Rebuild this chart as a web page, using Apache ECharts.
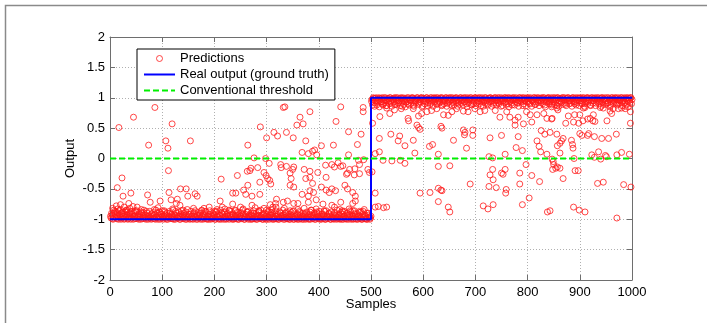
<!DOCTYPE html>
<html>
<head>
<meta charset="utf-8">
<script src="https://cdn.jsdelivr.net/npm/echarts@6/dist/echarts.min.js"></script>
<style>
html,body{margin:0;padding:0;background:#fff;}
#chart{width:707px;height:323px;}
</style>
</head>
<body>
<div id="chart"></div>
<script>
// ---- Data ----
const xTicks = [0,100,200,300,400,500,600,700,800,900,1000];
const yTicks = [-2,-1.5,-1,-0.5,0,0.5,1,1.5,2];

// Real output (ground truth)
const truthX = [0,500,500,1000];
const truthY = [-1,-1,1,1];

// Conventional threshold
const thresholdX = [0,1000];
const thresholdY = [0,0];

// Predictions: dense band near -1 (first half)
const predLowBand = [[2,-0.98],[4,-0.93],[6,-1],[8,-0.9],[9,-0.96],[11,-0.88],[13,-0.99],[15,-0.94],[17,-0.86],[19,-0.97],[21,-1],[23,-0.91],[26,-0.95],[28,-0.99],[30,-0.87],[32,-0.93],[34,-1],[36,-0.96],[38,-0.89],[41,-0.98],[43,-0.92],[45,-1],[47,-0.95],[50,-0.88],[52,-0.99],[54,-0.94],[57,-0.97],[59,-1],[61,-0.9],[63,-0.96],[66,-0.99],[68,-0.93],[70,-0.87],[73,-1],[75,-0.95],[77,-0.98],[80,-0.91],[82,-0.99],[84,-0.94],[87,-1],[89,-0.97],[91,-0.89],[94,-0.96],[96,-1],[98,-0.92],[101,-0.98],[103,-0.95],[105,-0.88],[108,-1],[110,-0.94],[112,-0.97],[115,-0.9],[117,-0.99],[119,-0.96],[122,-1],[124,-0.93],[126,-0.87],[129,-0.98],[131,-0.95],[133,-1],[136,-0.91],[138,-0.97],[140,-0.99],[143,-0.94],[145,-0.88],[147,-1],[150,-0.96],[152,-0.92],[154,-0.99],[157,-0.95],[159,-1],[161,-0.89],[164,-0.97],[166,-0.93],[168,-1],[171,-0.96],[173,-0.9],[175,-0.98],[178,-1],[180,-0.94],[182,-0.87],[185,-0.99],[187,-0.95],[189,-1],[192,-0.92],[194,-0.97],[196,-0.99],[199,-0.93],[201,-1],[203,-0.88],[206,-0.96],[208,-0.99],[210,-0.94],[213,-1],[215,-0.9],[217,-0.97],[220,-0.95],[222,-1],[224,-0.92],[227,-0.98],[229,-0.86],[231,-0.96],[234,-1],[236,-0.93],[238,-0.99],[241,-0.95],[243,-0.89],[245,-1],[248,-0.97],[250,-0.94],[252,-0.99],[255,-0.91],[257,-1],[259,-0.96],[262,-0.88],[264,-0.98],[266,-0.95],[269,-1],[271,-0.93],[273,-0.99],[276,-0.9],[278,-0.97],[280,-1],[283,-0.94],[285,-0.87],[287,-0.99],[290,-0.96],[292,-1],[294,-0.92],[297,-0.98],[299,-0.95],[301,-1],[304,-0.89],[306,-0.97],[308,-0.93],[311,-1],[313,-0.96],[315,-0.99],[318,-0.91],[320,-0.95],[322,-1],[325,-0.88],[327,-0.98],[329,-0.94],[332,-1],[334,-0.97],[336,-0.9],[339,-0.99],[341,-0.95],[343,-1],[346,-0.92],[348,-0.97],[350,-0.87],[353,-1],[355,-0.96],[357,-0.99],[360,-0.93],[362,-1],[364,-0.89],[367,-0.97],[369,-0.95],[371,-1],[374,-0.91],[376,-0.98],[378,-0.94],[381,-1],[383,-0.88],[385,-0.96],[388,-0.99],[390,-0.93],[392,-1],[395,-0.97],[397,-0.9],[399,-0.95],[402,-1],[404,-0.98],[406,-0.92],[409,-0.99],[411,-0.87],[413,-1],[416,-0.95],[418,-0.97],[420,-0.91],[423,-1],[425,-0.96],[427,-0.99],[430,-0.89],[432,-0.94],[434,-1],[437,-0.97],[439,-0.92],[441,-0.99],[444,-1],[446,-0.88],[448,-0.95],[451,-0.98],[453,-1],[455,-0.93],[458,-0.97],[460,-0.86],[462,-1],[465,-0.95],[467,-0.99],[469,-0.91],[472,-1],[474,-0.96],[476,-0.94],[479,-0.99],[481,-0.88],[483,-1],[486,-0.97],[488,-0.93],[490,-0.99],[493,-1],[495,-0.9],[497,-0.96],[499,-0.98]];

const predLowBand2 = [[1,-0.95],[3,-0.9],[5,-0.99],[7,-0.85],[10,-0.92],[12,-0.97],[14,-0.89],[16,-1],[18,-0.93],[20,-0.84],[22,-0.98],[24,-0.95],[25,-0.88],[27,-1],[29,-0.92],[31,-0.97],[33,-0.85],[35,-0.99],[37,-0.91],[39,-0.95],[40,-1],[42,-0.87],[44,-0.96],[46,-0.9],[48,-0.99],[49,-0.94],[51,-0.86],[53,-0.97],[55,-1],[56,-0.91],[58,-0.95],[60,-0.88],[62,-0.99],[64,-0.93],[65,-0.85],[67,-0.97],[69,-1],[71,-0.9],[72,-0.95],[74,-0.98],[76,-0.87],[78,-0.93],[79,-1],[81,-0.96],[83,-0.89],[85,-0.99],[86,-0.92],[88,-0.85],[90,-0.97],[92,-1],[93,-0.94],[95,-0.88],[97,-0.98],[99,-0.91],[100,-0.96],[102,-1],[104,-0.86],[106,-0.93],[107,-0.98],[109,-0.9],[111,-1],[113,-0.95],[114,-0.87],[116,-0.97],[118,-0.92],[120,-0.99],[121,-0.85],[123,-0.96],[125,-1],[127,-0.9],[128,-0.94],[130,-0.98],[132,-0.88],[134,-0.95],[135,-1],[137,-0.86],[139,-0.93],[141,-0.97],[142,-0.9],[144,-1],[146,-0.95],[148,-0.84],[149,-0.98],[151,-0.92],[153,-1],[155,-0.87],[156,-0.95],[158,-0.99],[160,-0.91],[162,-0.96],[163,-0.86],[165,-1],[167,-0.94],[169,-0.89],[170,-0.98],[172,-0.93],[174,-1],[176,-0.85],[177,-0.96],[179,-0.91],[181,-0.99],[183,-0.94],[184,-0.88],[186,-1],[188,-0.92],[190,-0.97],[191,-0.86],[193,-1],[195,-0.95],[197,-0.9],[198,-0.98],[200,-0.93],[202,-1],[204,-0.87],[205,-0.96],[207,-0.91],[209,-1],[211,-0.94],[212,-0.85],[214,-0.98],[216,-0.92],[218,-1],[219,-0.88],[221,-0.96],[223,-0.99],[225,-0.9],[226,-0.95],[228,-1],[230,-0.93],[232,-0.87],[233,-0.98],[235,-0.91],[237,-1],[239,-0.96],[240,-0.86],[242,-0.99],[244,-0.93],[246,-0.89],[247,-1],[249,-0.95],[251,-0.9],[253,-0.98],[254,-0.85],[256,-0.94],[258,-1],[260,-0.92],[261,-0.97],[263,-0.88],[265,-1],[267,-0.93],[268,-0.97],[270,-0.9],[272,-1],[274,-0.95],[275,-0.86],[277,-0.99],[279,-0.92],[281,-0.96],[282,-1],[284,-0.89],[286,-0.94],[288,-0.98],[289,-0.85],[291,-0.93],[293,-1],[295,-0.96],[296,-0.9],[298,-1],[300,-0.92],[302,-0.97],[303,-0.87],[305,-1],[307,-0.94],[309,-0.89],[310,-0.98],[312,-0.91],[314,-1],[316,-0.95],[317,-0.86],[319,-0.99],[321,-0.92],[323,-0.97],[324,-1],[326,-0.9],[328,-0.95],[330,-0.98],[331,-0.85],[333,-0.93],[335,-1],[337,-0.96],[338,-0.88],[340,-0.99],[342,-0.92],[344,-0.97],[345,-1],[347,-0.89],[349,-0.94],[351,-1],[352,-0.86],[354,-0.95],[356,-0.98],[358,-0.91],[359,-1],[361,-0.96],[363,-0.87],[365,-0.99],[366,-0.93],[368,-1],[370,-0.9],[372,-0.97],[373,-0.94],[375,-1],[377,-0.88],[379,-0.96],[380,-0.99],[382,-0.92],[384,-1],[386,-0.85],[387,-0.95],[389,-0.98],[391,-0.9],[393,-0.96],[394,-1],[396,-0.88],[398,-0.93],[400,-0.99],[401,-0.87],[403,-0.95],[405,-1],[407,-0.91],[408,-0.97],[410,-0.94],[412,-1],[414,-0.86],[415,-0.96],[417,-0.99],[419,-0.9],[421,-0.95],[422,-1],[424,-0.88],[426,-0.93],[428,-0.98],[429,-1],[431,-0.91],[433,-0.96],[435,-0.85],[436,-0.99],[438,-0.94],[440,-1],[442,-0.89],[443,-0.97],[445,-0.92],[447,-1],[449,-0.87],[450,-0.95],[452,-0.99],[454,-0.9],[456,-0.96],[457,-1],[459,-0.93],[461,-0.88],[463,-0.98],[464,-0.94],[466,-1],[468,-0.86],[470,-0.96],[471,-0.99],[473,-0.91],[475,-1],[477,-0.95],[478,-0.89],[480,-0.97],[482,-1],[484,-0.92],[485,-0.87],[487,-0.99],[489,-0.95],[491,-1],[492,-0.9],[494,-0.97],[496,-0.93],[498,-1],[500,-0.95]];

// Predictions: scattered points, first half
const predLowScatter = [[45,0.68],[17,0.51],[119,0.57],[86,0.84],[74,0.22],[107,0.29],[111,0.17],[154,0.29],[112,-0.2],[23,-0.32],[14,-0.48],[25,-0.62],[40,-0.57],[72,-0.6],[77,-0.72],[96,-0.7],[113,-0.56],[117,-0.68],[135,-0.5],[146,-0.5],[149,-0.62],[129,-0.67],[127,-0.74],[134,-0.77],[12,-0.78],[15,-0.83],[20,-0.76],[27,-0.8],[31,-0.85],[36,-0.74],[22,-0.9],[33,-0.88],[38,-0.82],[44,-0.79],[48,-0.86],[9,-0.87],[5,-0.82],[52,-0.8],[60,-0.84],[64,-0.89],[85,-0.84],[92,-0.81],[100,-0.86],[120,-0.83],[140,-0.85],[160,-0.82],[175,-0.86],[190,-0.8],[205,-0.84],[220,-0.83],[240,-0.85],[250,-0.8],[285,-0.86],[295,-0.82],[310,-0.84],[288,0.52],[300,0.34],[314,0.43],[321,0.37],[332,0.84],[264,0.22],[276,0.01],[298,0.0],[305,-0.08],[270,-0.16],[268,-0.2],[263,-0.21],[283,-0.15],[327,-0.1],[328,-0.15],[295,-0.23],[299,-0.28],[302,-0.33],[306,-0.36],[308,-0.42],[287,-0.39],[244,-0.28],[213,-0.34],[264,-0.44],[235,-0.57],[241,-0.57],[256,-0.52],[260,-0.59],[272,-0.62],[287,-0.59],[319,-0.67],[211,-0.7],[272,-0.77],[235,-0.75],[163,-0.58],[167,-0.62],[307,-0.76],[317,-0.74],[318,-0.8],[332,-0.72],[180,-0.82],[200,-0.87],[215,-0.8],[228,-0.85],[255,-0.83],[265,-0.87],[278,-0.81],[300,-0.85],[312,-0.8],[485,0.84],[485,0.77],[442,0.85],[335,0.85],[383,0.77],[364,0.68],[433,0.61],[358,0.55],[370,0.57],[338,0.43],[351,0.34],[457,0.44],[481,0.4],[375,0.29],[405,0.21],[428,0.22],[474,0.23],[368,0.1],[380,0.08],[388,0.12],[392,0.14],[396,0.06],[457,0.06],[476,-0.03],[478,-0.1],[486,-0.02],[338,-0.13],[352,-0.14],[350,-0.18],[372,-0.18],[383,-0.21],[413,-0.11],[425,-0.1],[430,-0.14],[437,-0.07],[442,-0.13],[446,-0.12],[459,-0.18],[455,-0.24],[345,-0.24],[347,-0.33],[375,-0.33],[383,-0.31],[388,-0.41],[398,-0.23],[414,-0.31],[453,-0.26],[468,-0.27],[469,-0.17],[478,-0.25],[494,-0.18],[497,-0.23],[345,-0.44],[352,-0.47],[368,-0.59],[383,-0.53],[390,-0.56],[380,-0.62],[405,-0.47],[414,-0.52],[425,-0.5],[432,-0.53],[420,-0.56],[450,-0.44],[455,-0.5],[465,-0.56],[470,-0.62],[340,-0.7],[352,-0.74],[360,-0.74],[380,-0.72],[395,-0.68],[408,-0.75],[425,-0.77],[442,-0.72],[465,-0.74],[470,-0.7],[334,-0.82],[345,-0.86],[360,-0.84],[372,-0.82],[385,-0.85],[395,-0.83],[410,-0.86],[430,-0.8],[440,-0.84],[445,-0.86],[458,-0.83],[465,-0.86],[478,-0.87],[487,-0.84]];

// Predictions: dense band near +1 (second half)
const predHighBand = [[502,0.97],[504,1],[506,0.92],[508,0.99],[511,0.88],[513,0.95],[515,1],[518,0.93],[520,0.98],[522,0.9],[525,1],[527,0.96],[529,0.87],[532,0.99],[534,0.94],[536,1],[539,0.91],[541,0.97],[543,0.99],[546,0.89],[548,1],[550,0.95],[553,0.92],[555,0.98],[557,1],[560,0.86],[562,0.96],[564,0.99],[567,0.93],[569,1],[571,0.9],[574,0.97],[576,0.95],[578,1],[581,0.88],[583,0.98],[585,0.94],[588,1],[590,0.96],[592,0.91],[595,0.99],[597,1],[599,0.87],[602,0.95],[604,0.98],[606,1],[609,0.92],[611,0.97],[613,0.89],[616,1],[618,0.94],[620,0.99],[623,0.96],[625,1],[627,0.9],[630,0.98],[632,0.93],[634,1],[637,0.88],[639,0.97],[641,0.95],[644,1],[646,0.91],[648,0.99],[651,0.96],[653,1],[655,0.87],[658,0.94],[660,0.98],[662,1],[665,0.92],[667,0.97],[669,0.89],[672,1],[674,0.95],[676,0.99],[679,0.93],[681,1],[683,0.9],[686,0.97],[688,0.96],[690,1],[693,0.88],[695,0.98],[697,0.94],[700,1],[702,0.91],[704,0.99],[707,0.95],[709,1],[711,0.87],[714,0.97],[716,0.93],[718,1],[721,0.96],[723,0.9],[725,0.99],[728,1],[730,0.94],[732,0.98],[735,0.89],[737,1],[739,0.95],[742,0.97],[744,0.92],[746,1],[749,0.86],[751,0.98],[753,0.95],[756,1],[758,0.93],[760,0.99],[763,0.9],[765,1],[767,0.96],[770,0.88],[772,0.98],[774,1],[777,0.94],[779,0.97],[781,0.91],[784,1],[786,0.95],[788,0.99],[791,0.87],[793,1],[795,0.96],[798,0.93],[800,0.98],[802,1],[805,0.9],[807,0.97],[809,0.95],[812,1],[814,0.89],[816,0.99],[819,0.94],[821,1],[823,0.96],[826,0.92],[828,0.98],[830,1],[833,0.88],[835,0.95],[837,0.99],[840,1],[842,0.93],[844,0.97],[847,0.9],[849,1],[851,0.96],[854,0.99],[856,0.87],[858,1],[861,0.94],[863,0.98],[865,0.92],[868,1],[870,0.96],[872,0.89],[875,0.99],[877,1],[879,0.95],[882,0.91],[884,0.97],[886,1],[889,0.93],[891,0.98],[893,0.88],[896,1],[898,0.95],[900,0.99],[903,0.92],[905,1],[907,0.97],[910,0.9],[912,0.96],[914,1],[917,0.94],[919,0.99],[921,0.87],[924,1],[926,0.95],[928,0.98],[931,0.91],[933,1],[935,0.96],[938,0.93],[940,0.99],[942,1],[945,0.89],[947,0.97],[949,0.95],[952,1],[954,0.92],[956,0.98],[959,0.88],[961,1],[963,0.96],[966,0.94],[968,0.99],[970,1],[973,0.9],[975,0.97],[977,0.95],[980,1],[982,0.93],[984,0.98],[987,0.86],[989,1],[991,0.96],[994,0.99],[996,0.92],[998,1]];

const predHighBand2 = [[501,0.94],[503,0.88],[505,0.99],[507,0.86],[509,0.95],[510,1],[512,0.91],[514,0.97],[516,0.85],[517,0.99],[519,0.93],[521,1],[523,0.88],[524,0.96],[526,0.92],[528,1],[530,0.87],[531,0.95],[533,0.98],[535,0.9],[537,1],[538,0.94],[540,0.86],[542,0.98],[544,0.93],[545,1],[547,0.89],[549,0.97],[551,1],[552,0.91],[554,0.95],[556,0.87],[558,0.99],[559,0.93],[561,1],[563,0.89],[565,0.96],[566,0.85],[568,0.98],[570,0.94],[572,1],[573,0.88],[575,0.96],[577,0.91],[579,0.99],[580,1],[582,0.86],[584,0.95],[586,0.92],[587,0.98],[589,1],[591,0.89],[593,0.97],[594,0.93],[596,1],[598,0.85],[600,0.96],[601,0.99],[603,0.9],[605,0.94],[607,1],[608,0.87],[610,0.98],[612,0.95],[614,1],[615,0.91],[617,0.97],[619,0.86],[621,1],[622,0.93],[624,0.98],[626,0.89],[628,1],[629,0.95],[631,0.92],[633,0.99],[635,0.87],[636,1],[638,0.94],[640,0.9],[642,0.98],[643,1],[645,0.86],[647,0.96],[649,0.93],[650,1],[652,0.89],[654,0.97],[656,1],[657,0.92],[659,0.88],[661,0.99],[663,0.95],[664,1],[666,0.86],[668,0.94],[670,0.98],[671,1],[673,0.91],[675,0.96],[677,0.88],[678,1],[680,0.94],[682,0.97],[684,0.85],[685,1],[687,0.92],[689,0.98],[691,0.89],[692,1],[694,0.95],[696,0.9],[698,0.99],[699,1],[701,0.87],[703,0.96],[705,0.93],[706,1],[708,0.9],[710,0.98],[712,0.94],[713,1],[715,0.86],[717,0.97],[719,0.91],[720,1],[722,0.95],[724,0.88],[726,0.99],[727,0.93],[729,1],[731,0.86],[733,0.96],[734,0.99],[736,0.92],[738,1],[740,0.88],[741,0.95],[743,1],[745,0.9],[747,0.97],[748,0.94],[750,1],[752,0.87],[754,0.98],[755,0.92],[757,1],[759,0.89],[761,0.96],[762,1],[764,0.85],[766,0.94],[768,0.99],[769,0.91],[771,1],[773,0.95],[775,0.88],[776,0.98],[778,1],[780,0.92],[782,0.96],[783,0.86],[785,1],[787,0.93],[789,0.97],[790,1],[792,0.9],[794,0.95],[796,0.99],[797,0.87],[799,1],[801,0.94],[803,0.91],[804,0.98],[806,1],[808,0.86],[810,0.96],[811,0.93],[813,1],[815,0.89],[817,0.97],[818,1],[820,0.92],[822,0.87],[824,0.99],[825,0.95],[827,1],[829,0.9],[831,0.96],[832,1],[834,0.85],[836,0.93],[838,0.98],[839,1],[841,0.9],[843,0.95],[845,1],[846,0.88],[848,0.97],[850,0.93],[852,1],[853,0.89],[855,0.96],[857,1],[859,0.91],[860,0.86],[862,0.99],[864,0.94],[866,1],[867,0.89],[869,0.97],[871,1],[873,0.92],[874,0.87],[876,0.96],[878,1],[880,0.9],[881,0.95],[883,0.99],[885,0.86],[887,1],[888,0.94],[890,0.9],[892,1],[894,0.96],[895,0.92],[897,0.99],[899,0.87],[901,1],[902,0.95],[904,0.9],[906,0.98],[908,1],[909,0.86],[911,0.93],[913,0.99],[915,1],[916,0.91],[918,0.96],[920,0.88],[922,1],[923,0.95],[925,0.91],[927,0.99],[929,1],[930,0.87],[932,0.94],[934,0.98],[936,1],[937,0.9],[939,0.96],[941,0.86],[943,1],[944,0.93],[946,0.98],[948,1],[950,0.89],[951,0.95],[953,0.91],[955,1],[957,0.97],[958,0.85],[960,0.94],[962,1],[964,0.9],[965,0.98],[967,1],[969,0.92],[971,0.88],[972,0.96],[974,1],[976,0.91],[978,0.97],[979,1],[981,0.87],[983,0.95],[985,1],[986,0.92],[988,0.98],[990,0.89],[992,1],[993,0.94],[995,0.96],[997,1],[999,0.9],[1000,0.97]];

// Predictions: scattered points, second half
const predHighScatter = [[503,0.58],[517,0.69],[536,0.74],[558,0.82],[571,0.66],[581,0.82],[591,0.7],[597,0.74],[607,0.77],[616,0.79],[626,0.82],[639,0.72],[648,0.71],[655,0.77],[664,0.82],[545,0.8],[530,0.83],[572,0.62],[588,0.55],[591,0.51],[594,0.48],[634,0.53],[636,0.5],[516,0.33],[538,0.4],[555,0.37],[552,0.29],[581,0.3],[565,0.21],[612,0.2],[618,0.23],[658,0.3],[680,0.43],[508,0.08],[516,0.11],[584,0.09],[629,0.07],[523,-0.03],[540,-0.04],[556,-0.03],[565,-0.08],[629,-0.13],[651,-0.12],[502,-0.22],[508,-0.57],[594,-0.57],[613,-0.56],[629,-0.49],[634,-0.52],[636,-0.53],[629,-0.71],[508,-0.8],[514,-0.79],[524,-0.81],[530,-0.8],[648,-0.8],[651,-0.88],[677,0.78],[686,0.77],[699,0.82],[709,0.77],[718,0.79],[738,0.79],[747,0.68],[760,0.77],[766,0.68],[776,0.63],[776,0.55],[782,0.68],[792,0.57],[798,0.77],[805,0.72],[808,0.6],[818,0.72],[831,0.74],[837,0.66],[847,0.66],[677,0.47],[679,0.39],[695,0.47],[695,0.38],[728,0.34],[750,0.38],[782,0.36],[826,0.46],[833,0.4],[843,0.43],[683,0.17],[778,0.18],[790,0.13],[818,0.29],[822,0.2],[825,0.11],[837,0.07],[757,0.07],[726,0.03],[733,0.01],[733,-0.18],[797,-0.1],[850,-0.1],[848,-0.18],[857,-0.14],[728,-0.27],[734,-0.35],[750,-0.24],[753,-0.26],[757,-0.18],[785,-0.24],[808,-0.28],[823,-0.38],[690,-0.42],[726,-0.46],[740,-0.48],[759,-0.51],[758,-0.57],[785,-0.42],[803,-0.65],[715,-0.78],[724,-0.83],[734,-0.76],[790,-0.76],[838,-0.88],[846,0.85],[856,0.83],[858,0.8],[878,0.7],[890,0.72],[900,0.72],[907,0.83],[910,0.84],[920,0.66],[926,0.72],[929,0.61],[939,0.84],[945,0.83],[958,0.78],[961,0.74],[964,0.82],[974,0.82],[980,0.83],[987,0.82],[993,0.85],[997,0.77],[846,0.65],[906,0.62],[915,0.65],[925,0.62],[952,0.62],[997,0.58],[873,0.58],[888,0.6],[898,0.58],[856,0.4],[900,0.41],[904,0.38],[915,0.38],[917,0.41],[928,0.36],[942,0.33],[955,0.33],[970,0.4],[868,0.33],[865,0.29],[862,0.25],[884,0.3],[886,0.23],[887,0.17],[857,0.21],[862,0.09],[923,0.06],[936,0.11],[949,0.05],[951,0.03],[971,0.06],[980,0.1],[995,0.07],[847,-0.01],[849,-0.05],[889,0.0],[928,0.02],[940,-0.01],[854,-0.16],[862,-0.16],[891,-0.2],[897,-0.2],[868,-0.33],[934,-0.41],[945,-0.39],[984,-0.43],[998,-0.47],[888,-0.8],[899,-0.85],[910,-0.88],[971,-0.98],[843,-0.86]];

const legendNames = ['Predictions','Real output (ground truth)','Conventional threshold'];
// ---- end data ----

const predictions = predLowBand.concat(predLowBand2, predLowScatter, predHighBand, predHighBand2, predHighScatter);
const truth = truthX.map((x,i)=>[x,truthY[i]]);
const threshold = thresholdX.map((x,i)=>[x,thresholdY[i]]);

const FONT = 'Liberation Sans, Arial, Helvetica, sans-serif';
const AX = '#6e6e6e';
const chart = echarts.init(document.getElementById('chart'), null, {renderer:'canvas'});

const fmt = v => String(v);

chart.setOption({
  animation:false,
  backgroundColor:'#fff',
  textStyle:{fontFamily:FONT},
  grid:{left:110, top:37, right:75, bottom:43, containLabel:false, outerBoundsMode:'none'},
  legend:{
    orient:'vertical', left:137, top:49,
    data:[
      {name:legendNames[0], itemStyle:{borderWidth:1}},
      {name:legendNames[1], itemStyle:{opacity:0}},
      {name:legendNames[2], itemStyle:{opacity:0}}
    ],
    backgroundColor:'#fff', borderColor:'#000', borderWidth:1,
    padding:[3,6,3,6], itemGap:3, itemWidth:31, itemHeight:6,
    textStyle:{fontFamily:FONT, fontSize:13, color:'#000'},
    selectedMode:false
  },
  xAxis:[{
    type:'value', min:xTicks[0], max:xTicks[xTicks.length-1], interval:100,
    name:'Samples', nameLocation:'middle', nameGap:18, nameMoveOverlap:false,
    nameTextStyle:{fontFamily:FONT, fontSize:13, color:'#000'},
    axisLine:{show:true, onZero:false, lineStyle:{color:AX, width:1}},
    axisTick:{show:true, inside:true, length:5, lineStyle:{color:AX}},
    axisLabel:{fontFamily:FONT, fontSize:13, color:'#000', margin:6, formatter:fmt},
    splitLine:{show:true, lineStyle:{color:'#b0b0b0', type:[1,2], width:1}}
  },{
    type:'value', position:'top', min:xTicks[0], max:xTicks[xTicks.length-1], interval:100,
    axisLine:{show:true, onZero:false, lineStyle:{color:AX, width:1}},
    axisTick:{show:true, inside:true, length:5, lineStyle:{color:AX}},
    axisLabel:{show:false}, splitLine:{show:false}
  }],
  yAxis:[{
    type:'value', min:yTicks[0], max:yTicks[yTicks.length-1], interval:0.5,
    name:'Output', nameLocation:'middle', nameGap:33, nameRotate:90, nameMoveOverlap:false,
    nameTextStyle:{fontFamily:FONT, fontSize:13, color:'#000'},
    axisLine:{show:true, onZero:false, lineStyle:{color:AX, width:1}},
    axisTick:{show:true, inside:true, length:5, lineStyle:{color:AX}},
    axisLabel:{fontFamily:FONT, fontSize:13, color:'#000', margin:5, formatter:fmt},
    splitLine:{show:true, lineStyle:{color:'#b0b0b0', type:[1,2], width:1}}
  },{
    type:'value', position:'right', min:yTicks[0], max:yTicks[yTicks.length-1], interval:0.5,
    axisLine:{show:true, onZero:false, lineStyle:{color:AX, width:1}},
    axisTick:{show:true, inside:true, length:5, lineStyle:{color:AX}},
    axisLabel:{show:false}, splitLine:{show:false}
  }],
  series:[{
    name:legendNames[0], type:'scatter', data:predictions,
    symbol:'circle', symbolSize:6, z:2,
    itemStyle:{color:'rgba(255,255,255,0)', borderColor:'#ff1a1a', borderWidth:1},
    emphasis:{disabled:true}
  },{
    name:legendNames[1], type:'line', data:truth, symbol:'none', z:3,
    lineStyle:{color:'#0000ff', width:2}, itemStyle:{color:'#0000ff'},
    emphasis:{disabled:true}
  },{
    name:legendNames[2], type:'line', data:threshold, symbol:'none', z:4,
    lineStyle:{color:'#00f000', width:2, type:[6,3]}, itemStyle:{color:'#00f000'},
    emphasis:{disabled:true}
  }],
  graphic:[{
    type:'polyline', silent:true, z:-1,
    shape:{points:[[5.5,323],[5.5,5.5],[707,5.5]]},
    style:{stroke:'#8a8a8a', lineWidth:1.5, fill:null}
  }]
});
</script>
</body>
</html>
